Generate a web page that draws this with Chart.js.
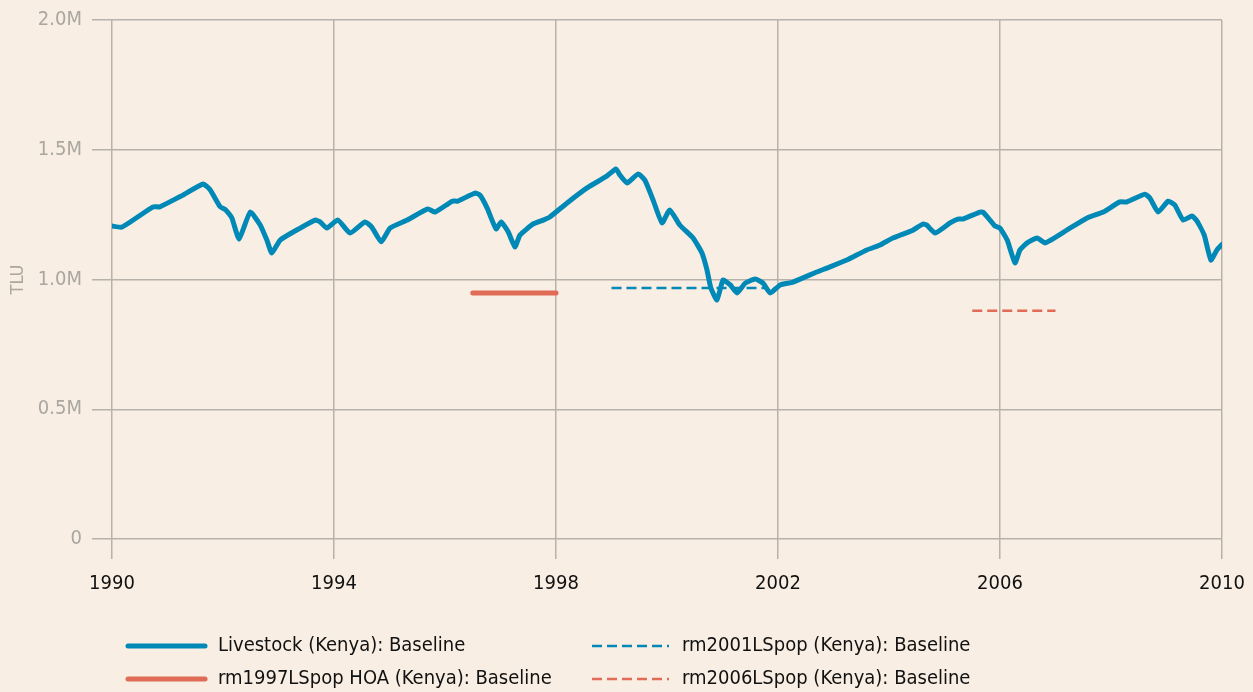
<!DOCTYPE html>
<html>
<head>
<meta charset="utf-8">
<script src="https://cdn.jsdelivr.net/npm/chart.js@4.4.1/dist/chart.umd.min.js"></script>
<style>
  html, body { margin: 0; padding: 0; background: #f8eee3; }
  #wrap { width: 1253px; height: 692px; position: relative; }
</style>
</head>
<body>
<div id="wrap"><canvas id="chart" width="1253" height="692"></canvas></div>
<script>
// Livestock (Kenya): Baseline, in millions of TLU
const livestockYears = [
  1990.0, 1990.18, 1990.74, 1990.86, 1991.23, 1991.28, 1991.64, 1991.77, 1991.95, 1992.05,
  1992.16, 1992.29, 1992.49, 1992.67, 1992.79, 1992.88, 1993.03, 1993.39, 1993.66, 1993.75,
  1993.87, 1994.07, 1994.29, 1994.56, 1994.68, 1994.85, 1995.01, 1995.32, 1995.69, 1995.82,
  1996.13, 1996.23, 1996.54, 1996.63, 1996.76, 1996.92, 1997.01, 1997.14, 1997.26, 1997.35,
  1997.59, 1997.77, 1997.89, 1998.20, 1998.56, 1998.92, 1999.08, 1999.15, 1999.28, 1999.48,
  1999.60, 1999.75, 1999.91, 2000.05, 2000.23, 2000.47, 2000.63, 2000.72, 2000.79, 2000.90,
  2001.01, 2001.14, 2001.26, 2001.41, 2001.59, 2001.73, 2001.86, 2002.04, 2002.27, 2002.70,
  2002.88, 2003.24, 2003.60, 2003.84, 2004.07, 2004.43, 2004.61, 2004.68, 2004.83, 2005.10,
  2005.24, 2005.33, 2005.64, 2005.69, 2005.82, 2005.91, 2006.00, 2006.13, 2006.27, 2006.36,
  2006.49, 2006.67, 2006.81, 2007.21, 2007.57, 2007.86, 2008.16, 2008.29, 2008.61, 2008.70,
  2008.85, 2009.03, 2009.15, 2009.30, 2009.46, 2009.55, 2009.68, 2009.80, 2009.91, 2010.0
];
const livestockValues = [
  1.206, 1.202, 1.280, 1.280, 1.320, 1.325, 1.368, 1.345, 1.280, 1.268,
  1.237, 1.156, 1.260, 1.210, 1.152, 1.102, 1.152, 1.198, 1.229, 1.222,
  1.198, 1.229, 1.179, 1.222, 1.202, 1.145, 1.198, 1.229, 1.272, 1.260,
  1.302, 1.302, 1.333, 1.325, 1.275, 1.195, 1.222, 1.183, 1.125, 1.171,
  1.214, 1.229, 1.241, 1.295, 1.353, 1.399, 1.426, 1.403, 1.372, 1.407,
  1.383, 1.306, 1.218, 1.268, 1.210, 1.160, 1.102, 1.037, 0.967, 0.921,
  0.998, 0.979, 0.948, 0.986, 1.002, 0.986, 0.948, 0.979, 0.990, 1.029,
  1.044, 1.075, 1.114, 1.133, 1.160, 1.190, 1.214, 1.210, 1.179, 1.218,
  1.233, 1.233, 1.260, 1.260, 1.229, 1.206, 1.198, 1.152, 1.064, 1.114,
  1.141, 1.160, 1.141, 1.191, 1.237, 1.260, 1.299, 1.299, 1.329, 1.314,
  1.260, 1.302, 1.287, 1.229, 1.245, 1.225, 1.171, 1.075, 1.114, 1.135
];

// reference means
const rm1997Years = [1996.5, 1998.0];
const rm1997Values = [0.948, 0.948];
const rm2001Years = [1999.0, 2001.8];
const rm2001Values = [0.967, 0.967];
const rm2006Years = [2005.5, 2007.0];
const rm2006Values = [0.88, 0.88];

const seriesLabels = [
  'Livestock (Kenya): Baseline',
  'rm1997LSpop HOA (Kenya): Baseline',
  'rm2001LSpop (Kenya): Baseline',
  'rm2006LSpop (Kenya): Baseline'
];

const xTicks = [1990, 1994, 1998, 2002, 2006, 2010];
const yTicks = [0, 0.5, 1.0, 1.5, 2.0];

const BLUE = '#0089b6';
const RED = '#e06b56';
const GRID = '#b7b2ab';
const FONT = '"Liberation Sans Narrow", "DejaVu Sans Condensed", "Roboto Condensed", "Arial Narrow", sans-serif';

const toPoints = (xs, ys) => xs.map((x, i) => ({x: x, y: ys[i]}));

const bgPlugin = {
    id: 'bgPlugin',
    beforeDraw(chart) {
        const {ctx, width, height} = chart;
        ctx.save();
        ctx.fillStyle = '#f8eee3';
        ctx.fillRect(0, 0, width, height);
        ctx.restore();
    }
};

// two-column legend under the plot, column by column
const legendPlugin = {
    id: 'legendPlugin',
    afterDraw(chart) {
        const {ctx} = chart;
        const cols = [128, 592];
        const rows = [646, 679];
        ctx.save();
        ctx.font = '20px ' + FONT;
        ctx.textBaseline = 'middle';
        ctx.textAlign = 'left';
        chart.data.datasets.forEach((ds, i) => {
            const x = cols[Math.floor(i / 2)];
            const y = rows[i % 2];
            ctx.beginPath();
            ctx.strokeStyle = ds.borderColor;
            ctx.lineWidth = ds.borderWidth;
            ctx.lineCap = ds.borderDash ? 'butt' : 'round';
            ctx.setLineDash(ds.borderDash || []);
            ctx.moveTo(x, y);
            ctx.lineTo(x + 77, y);
            ctx.stroke();
            ctx.setLineDash([]);
            ctx.fillStyle = '#111';
            ctx.fillText(ds.label, x + 90, y);
        });
        ctx.restore();
    }
};

const ctx = document.getElementById('chart').getContext('2d');
const chart = new Chart(ctx, {
    type: 'line',
    data: {
        datasets: [
            {
                label: seriesLabels[0],
                data: toPoints(livestockYears, livestockValues),
                borderColor: BLUE,
                borderWidth: 5,
                borderJoinStyle: 'round',
                borderCapStyle: 'round',
                tension: 0.15,
                pointRadius: 0
            },
            {
                label: seriesLabels[1],
                data: toPoints(rm1997Years, rm1997Values),
                borderColor: RED,
                borderWidth: 5,
                borderCapStyle: 'round',
                pointRadius: 0
            },
            {
                label: seriesLabels[2],
                data: toPoints(rm2001Years, rm2001Values),
                borderColor: BLUE,
                borderWidth: 2.5,
                borderDash: [10, 5],
                pointRadius: 0
            },
            {
                label: seriesLabels[3],
                data: toPoints(rm2006Years, rm2006Values),
                borderColor: RED,
                borderWidth: 2.5,
                borderDash: [10, 5],
                pointRadius: 0
            }
        ]
    },
    options: {
        responsive: false,
        animation: false,
        parsing: false,
        layout: {
            autoPadding: false,
            padding: {left: 0, right: 31, top: 20, bottom: 93}
        },
        plugins: {
            legend: {display: false},
            tooltip: {enabled: false}
        },
        scales: {
            x: {
                type: 'linear',
                min: 1990,
                max: 2010,
                afterBuildTicks: (scale) => { scale.ticks = xTicks.map(v => ({value: v})); },
                afterFit: (scale) => { scale.height = 60; scale.paddingLeft = 0; scale.paddingRight = 0; },
                grid: {color: GRID, lineWidth: 1.5, tickLength: 20},
                border: {display: false},
                ticks: {
                    color: '#111',
                    font: {family: FONT, size: 20},
                    padding: 13,
                    maxRotation: 0,
                    callback: (v) => String(v)
                }
            },
            y: {
                min: 0,
                max: 2,
                afterBuildTicks: (scale) => { scale.ticks = yTicks.map(v => ({value: v})); },
                afterFit: (scale) => { scale.width = 112; scale.paddingTop = 0; scale.paddingBottom = 0; },
                grid: {color: GRID, lineWidth: 1.5, tickLength: 20},
                border: {display: false},
                title: {
                    display: true,
                    text: 'TLU',
                    color: '#aaa6a0',
                    font: {family: FONT, size: 18},
                    padding: {top: 8, bottom: 0}
                },
                ticks: {
                    color: '#aaa6a0',
                    font: {family: FONT, size: 20},
                    padding: 10,
                    callback: (v) => v === 0 ? '0' : v.toFixed(1) + 'M'
                }
            }
        }
    },
    plugins: [bgPlugin, legendPlugin]
});
</script>
</body>
</html>
